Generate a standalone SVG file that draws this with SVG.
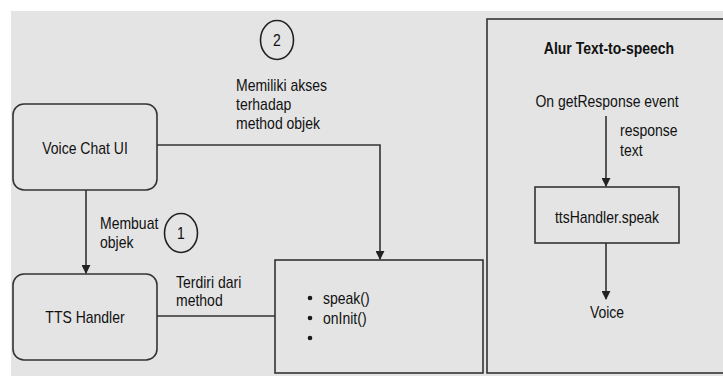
<svg xmlns="http://www.w3.org/2000/svg" width="723" height="376" viewBox="0 0 723 376">
<defs>
<marker id="ah" viewBox="0 0 10 10" refX="9" refY="5" markerWidth="9" markerHeight="9" markerUnits="userSpaceOnUse" orient="auto">
<path d="M0,0 L10,5 L0,10 Z" fill="#222"/>
</marker>
<style>
.t{font-family:"Liberation Sans",Arial,sans-serif;font-size:14px;fill:#111}
.c{text-anchor:middle}
.b{font-weight:bold}
.box{fill:none;stroke:#333;stroke-width:1.6}
.ln{fill:none;stroke:#333;stroke-width:1.6}
</style>
</defs>
<rect x="0" y="0" width="723" height="376" fill="#ffffff"/>
<rect x="11" y="11" width="712" height="365" fill="#e4e4e4"/>

<g id="panel-tts">
<rect class="box" x="487" y="19" width="240" height="354"/>
<text class="t c b" transform="translate(609,54) scale(1,1.2)">Alur Text-to-speech</text>
</g>
<g id="on-get-response">
<text class="t c" transform="translate(607,107) scale(1,1.2)">On getResponse event</text>
</g>
<g id="tts-speak">
<rect class="box" x="535" y="187" width="144" height="56"/>
<text class="t c" transform="translate(607,223) scale(1,1.2)">ttsHandler.speak</text>
</g>
<g id="voice">
<text class="t c" transform="translate(607,318) scale(1,1.2)">Voice</text>
</g>

<g id="voice-chat-ui">
<rect class="box" x="13" y="104" width="144" height="86" rx="11"/>
<text class="t c" transform="translate(85,154) scale(1,1.2)">Voice Chat UI</text>
</g>
<g id="tts-handler">
<rect class="box" x="13" y="274" width="144" height="86" rx="11"/>
<text class="t c" transform="translate(85,323) scale(1,1.2)">TTS Handler</text>
</g>
<g id="methods">
<rect class="box" x="275" y="260" width="208" height="113"/>
<circle cx="310" cy="298" r="2.3" fill="#1a1a1a"/>
<circle cx="310" cy="318" r="2.3" fill="#1a1a1a"/>
<circle cx="310" cy="338" r="2.3" fill="#1a1a1a"/>
<text class="t" transform="translate(323,304) scale(1,1.2)">speak()</text>
<text class="t" transform="translate(323,324) scale(1,1.2)">onInit()</text>
</g>
<g id="step-1">
<ellipse cx="181" cy="233" rx="16.5" ry="19.5" fill="none" stroke="#222" stroke-width="1.6"/>
<text class="t c" transform="translate(181,239) scale(1,1.2)">1</text>
</g>
<g id="step-2">
<ellipse cx="277" cy="40" rx="16.5" ry="19.5" fill="none" stroke="#222" stroke-width="1.6"/>
<text class="t c" transform="translate(277,46) scale(1,1.2)">2</text>
</g>

<g id="connectors">
<line class="ln" x1="86" y1="190" x2="86" y2="273" marker-end="url(#ah)"/>
<polyline class="ln" points="157,145 380,145 380,259" marker-end="url(#ah)"/>
<line class="ln" x1="157" y1="316" x2="275" y2="316"/>
<line class="ln" x1="606" y1="116" x2="606" y2="186" marker-end="url(#ah)"/>
<line class="ln" x1="606" y1="243" x2="606" y2="299" marker-end="url(#ah)"/>
<text class="t" transform="translate(100,229) scale(1,1.2)">Membuat</text>
<text class="t" transform="translate(100,248) scale(1,1.2)">objek</text>
<text class="t" transform="translate(236,91) scale(1,1.2)">Memiliki akses</text>
<text class="t" transform="translate(236,110) scale(1,1.2)">terhadap</text>
<text class="t" transform="translate(236,129) scale(1,1.2)">method objek</text>
<text class="t" transform="translate(176,288) scale(1,1.2)">Terdiri dari</text>
<text class="t" transform="translate(176,306) scale(1,1.2)">method</text>
<text class="t" transform="translate(620,136) scale(1,1.2)">response</text>
<text class="t" transform="translate(620,156) scale(1,1.2)">text</text>
</g>
</svg>
